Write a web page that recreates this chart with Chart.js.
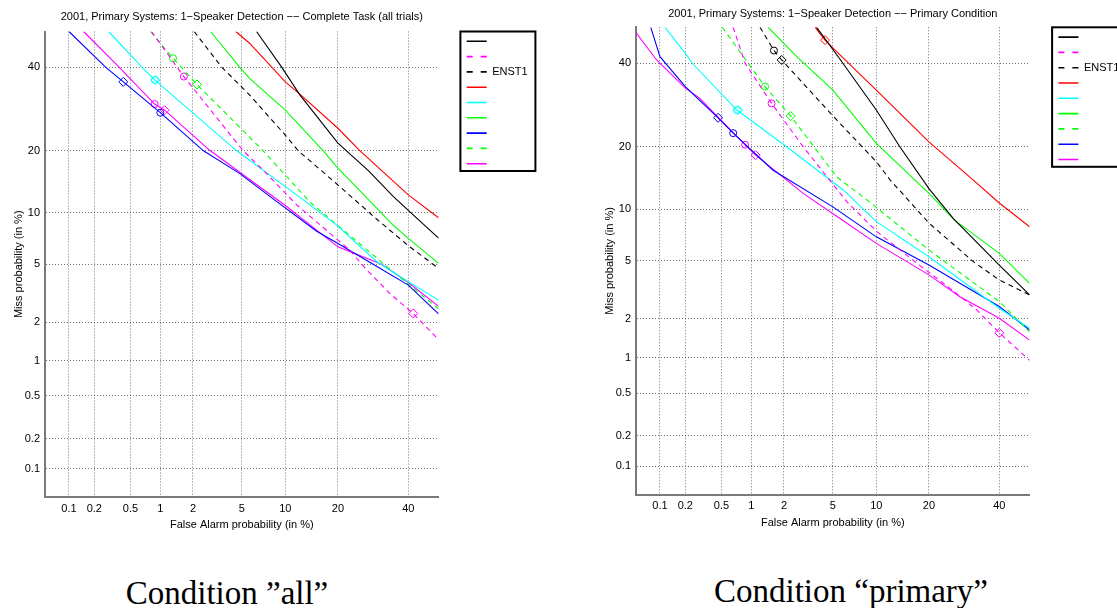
<!DOCTYPE html>
<html>
<head>
<meta charset="utf-8">
<script src="https://cdn.jsdelivr.net/npm/chart.js@4.4.0/dist/chart.umd.min.js"></script>
<style>
  body { margin: 0; background: #fff; width: 1117px; height: 608px; overflow: hidden; position: relative; }
  canvas { position: absolute; top: 0; }
  #allChart { left: 0; }
  #primaryChart { left: 575px; }
  .caption { position: absolute; font-family: 'Liberation Serif', serif; font-size: 33px; line-height: 33px; white-space: nowrap; transform: translateX(-50%); color: #000; }
</style>
</head>
<body>
<canvas id="allChart" width="570" height="540"></canvas>
<canvas id="primaryChart" width="600" height="540"></canvas>
<div class="caption" style="left:227px; top:577px">Condition ”all”</div>
<div class="caption" style="left:851px; top:575px">Condition “primary”</div>
<script>
// tick values (in %) on both probability axes
const tickValues = [0.1, 0.2, 0.5, 1, 2, 5, 10, 20, 40];

// legend order of the systems, only ENST1 has a name
const allKeys = ['black', 'magentaDash', 'enst1', 'red', 'cyan', 'green', 'blue', 'greenDash', 'magenta'];
const primaryKeys = ['black', 'magentaDash', 'enst1', 'red', 'cyan', 'green', 'greenDash', 'blue', 'magenta'];
const legendNames = { enst1: 'ENST1' };

// DET curves, condition "all": [false alarm %, miss %]
const allBlack = [[6.4, 50], [9.5, 40], [12.3, 32.7], [20, 21.5], [28, 16.2], [35.2, 12.2], [40, 10.3], [50, 7.2]];
const allMagentaDash = [[0.82, 50], [1.66, 37.5], [5.1, 20], [7.1, 16.4], [11.8, 11.0], [22.9, 6.1], [27.4, 4.6], [34.2, 3.2], [41.6, 2.31], [50, 1.47]];
const allEnst1 = [[2.05, 50], [3.5, 40], [5.7, 32.7], [10, 23.2], [12, 20], [20, 13.9], [30.2, 9.25], [40, 6.5], [50, 4.7]];
const allRed = [[4.5, 50], [5.7, 46.7], [10, 36.1], [12.3, 32.9], [20, 24.7], [25.5, 20], [40, 12.4], [50, 9.4]];
const allCyan = [[0.29, 50], [0.66, 40], [0.88, 36.6], [4.55, 20], [12.9, 11.7], [19.7, 8.55], [30.2, 5.2], [40, 3.84], [50, 2.88]];
const allGreen = [[2.83, 50], [4.83, 40], [5.7, 37], [10, 28.9], [16.7, 20], [20, 16.7], [35.2, 8.55], [40, 7.18], [50, 5.06]];
const allBlue = [[0.1, 50], [0.27, 40], [0.42, 36.1], [1.0, 28.3], [2.45, 20], [4.8, 15.8], [8.5, 11.7], [15.4, 7.9], [20, 6.7], [29.2, 5], [40, 3.65], [50, 2.3]];
const allGreenDash = [[0.8, 50], [1.32, 42.5], [2.17, 35.4], [7.1, 20], [14.1, 11.4], [35.2, 4.47], [50, 2.5]];
const allMagenta = [[0.15, 50], [0.38, 40], [0.88, 30.4], [1.1, 28.9], [2.8, 20], [10.2, 10.8], [20, 6.4], [31.7, 5], [40, 3.8], [50, 2.6]];

// DET curves, condition "primary"
const primBlack = [[3.75, 50], [5.65, 41.1], [10, 28], [13.9, 20], [20, 12.8], [26.2, 8.9], [40, 4.7], [50, 2.97]];
const primMagentaDash = [[0.66, 50], [0.87, 40], [1.55, 29.6], [2.92, 20], [6.3, 11], [10.1, 7.5], [17.3, 4.83], [25.3, 3.3], [32.9, 2.33], [40, 1.57], [50, 0.95]];
const primEnst1 = [[1.21, 50], [1.63, 43.5], [1.91, 40.9], [5.34, 25.7], [10, 17.2], [12.2, 14.1], [20, 8.4], [31.9, 4.94], [40, 3.76], [50, 2.97]];
const primRed = [[3.65, 50], [4.36, 46.4], [5.65, 42.3], [10, 32.9], [20, 21], [31.9, 14.1], [40, 10.8], [50, 8.0]];
const primCyan = [[0.115, 50], [0.2, 42.7], [0.24, 40], [0.72, 28], [2.11, 20], [5.97, 12.6], [10, 8.55], [20, 5.3], [40, 2.39], [50, 1.7]];
const primGreen = [[1.44, 50], [2.58, 41.8], [5, 32.9], [10, 20.7], [20, 12.1], [26.6, 8.7], [40, 5.57], [50, 3.57]];
const primGreenDash = [[0.51, 50], [1.35, 33.8], [2.29, 26.6], [5.34, 14.6], [8.7, 11.2], [20, 5.84], [40, 2.67], [50, 1.6]];
const primBlue = [[0.077, 50], [0.1, 41.8], [0.2, 33.8], [0.46, 26.2], [0.66, 22.8], [1.6, 15.7], [5, 10.3], [10, 7.0], [20, 4.7], [40, 2.46], [50, 1.65]];
const primMagenta = [[0.05, 48.5], [0.091, 40.9], [0.2, 33.4], [0.29, 30.9], [0.87, 20.4], [1.1, 18.4], [2.92, 12.1], [5.65, 8.9], [10, 6.4], [20, 4.06], [28, 2.89], [40, 2.02], [50, 1.38]];

// operating points: [system, false alarm %, miss %]
const allCircles = [['blue', 1.0, 28.3], ['magenta', 0.88, 30.4], ['cyan', 0.88, 36.6], ['magentaDash', 1.66, 37.5], ['greenDash', 1.32, 42.5]];
const allDiamonds = [['blue', 0.42, 36.1], ['magenta', 1.1, 28.9], ['cyan', 0.9, 36.6], ['magentaDash', 41.6, 2.31], ['greenDash', 2.17, 35.4]];
const primCircles = [['enst1', 1.63, 43.5], ['greenDash', 1.35, 33.8], ['magentaDash', 1.55, 29.6], ['cyan', 0.72, 28], ['blue', 0.66, 22.8], ['magenta', 0.87, 20.4]];
const primDiamonds = [['red', 4.36, 46.4], ['enst1', 1.91, 40.9], ['greenDash', 2.29, 26.6], ['cyan', 0.74, 28], ['blue', 0.46, 26.2], ['magenta', 1.1, 18.4], ['magentaDash', 40, 1.57]];

const allCurves = { black: allBlack, magentaDash: allMagentaDash, enst1: allEnst1, red: allRed, cyan: allCyan, green: allGreen, blue: allBlue, greenDash: allGreenDash, magenta: allMagenta };
const primCurves = { black: primBlack, magentaDash: primMagentaDash, enst1: primEnst1, red: primRed, cyan: primCyan, green: primGreen, blue: primBlue, greenDash: primGreenDash, magenta: primMagenta };

const lineStyles = {
  black: { color: '#000000', dash: [] },
  magentaDash: { color: '#ff00ff', dash: [5, 4] },
  enst1: { color: '#000000', dash: [5, 4] },
  red: { color: '#ff0000', dash: [] },
  cyan: { color: '#00ffff', dash: [] },
  green: { color: '#00ff00', dash: [] },
  blue: { color: '#0000ff', dash: [] },
  greenDash: { color: '#00ff00', dash: [5, 4] },
  magenta: { color: '#ff00ff', dash: [] }
};

// inverse normal cdf (Acklam)
function probit(p) {
  const a = [-39.69683028665376, 220.9460984245205, -275.9285104469687, 138.3577518672690, -30.66479806614716, 2.506628277459239];
  const b = [-54.47609879822406, 161.5858368580409, -155.6989798598866, 66.80131188771972, -13.28068155288572];
  const c = [-0.007784894002430293, -0.3223964580411365, -2.400758277161838, -2.549732539343734, 4.374664141464968, 2.938163982698783];
  const d = [0.007784695709041462, 0.3224671290700398, 2.445134137142996, 3.754408661907416];
  const tail = q => (((((c[0] * q + c[1]) * q + c[2]) * q + c[3]) * q + c[4]) * q + c[5]) / ((((d[0] * q + d[1]) * q + d[2]) * q + d[3]) * q + 1);
  if (p < 0.02425) return tail(Math.sqrt(-2 * Math.log(p)));
  if (p > 1 - 0.02425) return -tail(Math.sqrt(-2 * Math.log(1 - p)));
  const q = p - 0.5, r = q * q;
  return (((((a[0] * r + a[1]) * r + a[2]) * r + a[3]) * r + a[4]) * r + a[5]) * q / (((((b[0] * r + b[1]) * r + b[2]) * r + b[3]) * r + b[4]) * r + 1);
}

function normCdf(z) {
  const t = 1 / (1 + 0.3275911 * Math.abs(z) / Math.SQRT2);
  const e = 1 - (((((1.061405429 * t - 1.453152027) * t) + 1.421413741) * t - 0.284496736) * t + 0.254829592) * t * Math.exp(-z * z / 2);
  return z >= 0 ? (1 + e) / 2 : (1 - e) / 2;
}

// normal deviate scale for DET plots, values in %
class ProbitScale extends Chart.Scale {
  static id = 'probit';
  static defaults = {};
  determineDataLimits() {
    this.min = this.options.min;
    this.max = this.options.max;
  }
  buildTicks() {
    return tickValues.map(v => ({ value: v }));
  }
  configure() {
    super.configure();
    this._zStart = probit(this.min / 100);
    this._zEnd = probit(this.max / 100);
  }
  getPixelForValue(value) {
    return this.getPixelForDecimal((probit(value / 100) - this._zStart) / (this._zEnd - this._zStart));
  }
  getValueForPixel(pixel) {
    return normCdf(this._zStart + this.getDecimalForPixel(pixel) * (this._zEnd - this._zStart)) * 100;
  }
  getLabelForValue(value) {
    return String(value);
  }
}
Chart.register(ProbitScale);

Chart.defaults.font.family = "'Liberation Sans', Arial, sans-serif";
Chart.defaults.font.size = 11;
Chart.defaults.color = '#000';

// legend with fixed width, moved next to the plot top and framed
const legendFrame = {
  id: 'legendFrame',
  beforeLayout(chart, args, opts) {
    const legend = chart.legend;
    if (legend._fixedFit) return;
    const fit = legend.fit;
    legend.fit = function () { fit.call(this); this.width = opts.width; };
    legend._fixedFit = true;
  },
  afterLayout(chart, args, opts) {
    const legend = chart.legend;
    legend.left += opts.gap;
    legend.top = chart.chartArea.top;
    legend.bottom = chart.chartArea.bottom;
  },
  afterDraw(chart, args, opts) {
    const { ctx, legend } = chart;
    ctx.save();
    ctx.strokeStyle = '#000';
    ctx.lineWidth = 2;
    ctx.strokeRect(legend.left - 2, legend.top, 75, 139.5);
    ctx.restore();
  }
};

function legendItems(chart) {
  const items = Chart.defaults.plugins.legend.labels.generateLabels(chart);
  items.forEach(item => {
    const ds = chart.data.datasets[item.datasetIndex];
    item.lineDash = ds.borderDash && ds.borderDash.length ? [6, 8] : [];
    item.lineWidth = 1.6;
  });
  return items;
}

function axis(title, afterFit, titlePad) {
  return {
    type: 'probit',
    min: 0.05,
    max: 50,
    afterFit: afterFit,
    ticks: { autoSkip: false, maxRotation: 0, padding: 5, color: '#000', font: { size: 11 } },
    grid: { drawTicks: false, color: 'rgba(0,0,0,0.55)', lineWidth: 1 },
    border: { display: true, color: '#7a7a7a', width: 2, dash: [1, 2] },
    title: { display: true, text: title, color: '#000', font: { size: 11 }, padding: titlePad }
  };
}

function buildDet(canvasId, title, keys, curves, circles, diamonds, geom) {
  const datasets = keys.map(k => ({
    label: legendNames[k] || '',
    data: curves[k].map(([fa, miss]) => ({ x: fa, y: miss })),
    borderColor: lineStyles[k].color,
    borderDash: lineStyles[k].dash,
    borderWidth: 1.1,
    pointRadius: 0,
    tension: 0,
    fill: false
  }));
  [[circles, 'circle', 3.5], [diamonds, 'rectRot', 4.5]].forEach(([marks, style, r]) => {
    datasets.push({
      label: '',
      isMarker: true,
      showLine: false,
      data: marks.map(([k, fa, miss]) => ({ x: fa, y: miss })),
      pointStyle: style,
      pointRadius: r,
      pointBorderWidth: 1,
      pointBorderColor: marks.map(([k]) => lineStyles[k].color),
      pointBackgroundColor: 'rgba(0,0,0,0)',
      borderColor: '#000'
    });
  });

  return new Chart(document.getElementById(canvasId), {
    type: 'line',
    data: { datasets: datasets },
    plugins: [legendFrame],
    options: {
      responsive: false,
      animation: false,
      devicePixelRatio: 1,
      events: [],
      layout: { autoPadding: false, padding: geom.padding },
      scales: {
        x: axis('False Alarm probability (in %)', s => { s.height = 38; }, { top: 0, bottom: 3 }),
        y: axis('Miss probability (in %)', s => { s.width = 39; }, { top: 6, bottom: 0 })
      },
      plugins: {
        title: {
          display: true,
          text: title,
          fullSize: false,
          color: '#000',
          font: { size: 11, weight: 'normal' },
          padding: geom.titlePad
        },
        legend: {
          position: 'right',
          align: 'start',
          labels: {
            usePointStyle: true,
            pointStyle: 'line',
            pointStyleWidth: 20,
            padding: 4.3,
            color: '#000',
            font: { size: 11 },
            generateLabels: legendItems,
            filter: (item, data) => !data.datasets[item.datasetIndex].isMarker
          }
        },
        legendFrame: { width: 100, gap: geom.gap },
        tooltip: { enabled: false }
      }
    }
  });
}

buildDet('allChart',
  '2001, Primary Systems: 1\u2212Speaker Detection \u2212\u2212 Complete Task (all trials)',
  allKeys, allCurves, allCircles, allDiamonds,
  { padding: { left: 6, top: 4, right: 31.4, bottom: 5 }, titlePad: { top: 6.1, bottom: 8.2 }, gap: 23.8 });

buildDet('primaryChart',
  '2001, Primary Systems: 1\u2212Speaker Detection \u2212\u2212 Primary Condition',
  primaryKeys, primCurves, primCircles, primDiamonds,
  { padding: { left: 22, top: 2, right: 45.4, bottom: 7.5 }, titlePad: { top: 5.4, bottom: 6.7 }, gap: 24.5 });
</script>
</body>
</html>
